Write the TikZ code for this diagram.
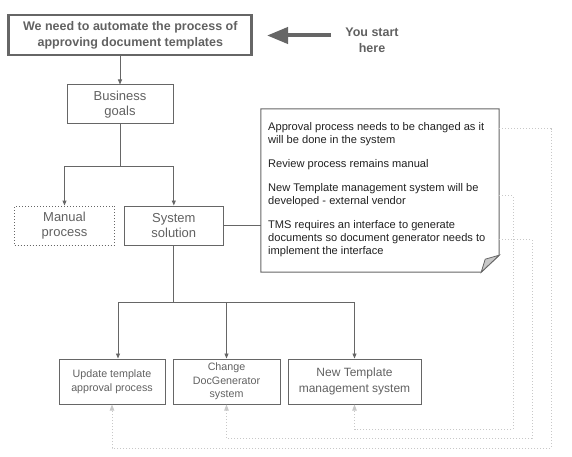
\documentclass[tikz,border=0pt]{standalone}
\usepackage{fontspec}
\setmainfont{Liberation Sans}
\usetikzlibrary{arrows.meta}
\definecolor{bd}{HTML}{666666}
\definecolor{tx}{HTML}{616161}
\definecolor{nt}{HTML}{212121}
\definecolor{dl}{HTML}{C8C8C8}
\begin{document}
\begin{tikzpicture}[x=1pt,y=-1pt,
  boxstyle/.style={draw=bd,line width=1pt,rectangle,inner sep=0pt,align=center,text=tx,font=\fontsize{12}{15.5}\selectfont},
  midbox/.style={boxstyle,font=\fontsize{13}{15.6}\selectfont},
  smallbox/.style={boxstyle,font=\fontsize{10.7}{13.5}\selectfont},
  conn/.style={draw=bd,line width=0.95pt,-{Triangle[length=5pt,width=4pt]}},
  plainconn/.style={draw=bd,line width=0.95pt},
  dotconn/.style={draw=dl,line width=0.9pt,dash pattern=on 1pt off 2pt,-{Triangle[length=6pt,width=4.5pt]}},
  notetext/.style={anchor=west,text=nt,font=\fontsize{11.1}{13}\selectfont,inner sep=0pt}
]
\useasboundingbox (0,0) rectangle (572,457);
% top box
\node[boxstyle,line width=2.8pt,minimum width=243,minimum height=40,font=\bfseries\fontsize{12.5}{16}\selectfont] (top) at (130.3,35) {We need to automate the process of\\approving document templates};
\node[align=center,text=tx,font=\bfseries\fontsize{12.5}{15.5}\selectfont,inner sep=0pt] (start) at (372,40.5) {You start\\here};
\coordinate (arrtail) at (331,35.5);
\coordinate (arrtip) at (267,35.5);
\draw[draw=bd,fill=bd,line width=4pt,-{Triangle[length=21pt,width=16pt]}] (arrtail) -- (arrtip);
% goals
\node[midbox,minimum width=106,minimum height=39] (goals) at (120,104.5) {Business\\goals};
\draw[conn] (goals.north |- top.south) -- (goals.north);
% second level
\node[midbox,dash pattern=on 1pt off 2pt,line width=0.9pt,minimum width=100,minimum height=39] (manual) at (64.5,225.5) {Manual\\process};
\node[midbox,minimum width=99,minimum height=39] (system) at (173.8,225.5) {System\\solution};
\draw[conn] (goals.south) -- ++(0,42) -| (manual.north);
\draw[conn] (goals.south) -- ++(0,42) -| (system.north);
% note
\node[minimum width=238,minimum height=163,inner sep=0pt] (note) at (380,190.5) {};
\draw[draw=bd,line width=1pt,fill=white] (note.north west) -- (note.north east) -- ([yshift=17pt]note.south east) -- ([xshift=-18pt]note.south east) -- (note.south west) -- cycle;
\draw[draw=bd,line width=0.8pt,fill=dl] ([yshift=17pt]note.south east) -- ([xshift=-18pt]note.south east) -- ([xshift=-14pt,yshift=13pt]note.south east) -- cycle;
\draw[plainconn] (system.east) -- (system.east -| note.west);
\node[notetext] (t1) at (268,127.5) {Approval process needs to be changed as it};
\node[notetext] (t2) at (268,140.5) {will be done in the system};
\node[notetext] (t3) at (268,164.5) {Review process remains manual};
\node[notetext] (t4) at (268,188.5) {New Template management system will be};
\node[notetext] (t5) at (268,201.5) {developed - external vendor};
\node[notetext] (t6) at (268,225.5) {TMS requires an interface to generate};
\node[notetext] (t7) at (268,238.5) {documents so document generator needs to};
\node[notetext] (t8) at (268,251.5) {implement the interface};
% bottom boxes
\node[smallbox,minimum width=106,minimum height=45] (box1) at (112,381.5) {Update template\\approval process};
\node[smallbox,minimum width=107,minimum height=45] (box2) at (226.5,381.5) {Change\\DocGenerator\\system};
\node[boxstyle,minimum width=133,minimum height=45] (box3) at (354.5,381.5) {New Template\\management system};
\draw[conn] (system.south) -- ++(0,57) -| ([xshift=6pt]box1.north);
\draw[conn] (system.south) -- ++(0,57) -| (box2.north);
\draw[conn] (system.south) -- ++(0,57) -| (box3.north);
% dotted links
\coordinate (c1) at (551,448);
\coordinate (c2) at (513,429);
\coordinate (c3) at (532,438);
\draw[dotconn] ([yshift=-20pt]note.north east) -| (c1) -| (box1.south);
\draw[dotconn] ([yshift=-87pt]note.north east) -| (c2) -| (box3.south);
\draw[dotconn] ([yshift=-131pt]note.north east) -| (c3) -| (box2.south);
\end{tikzpicture}
\end{document}
